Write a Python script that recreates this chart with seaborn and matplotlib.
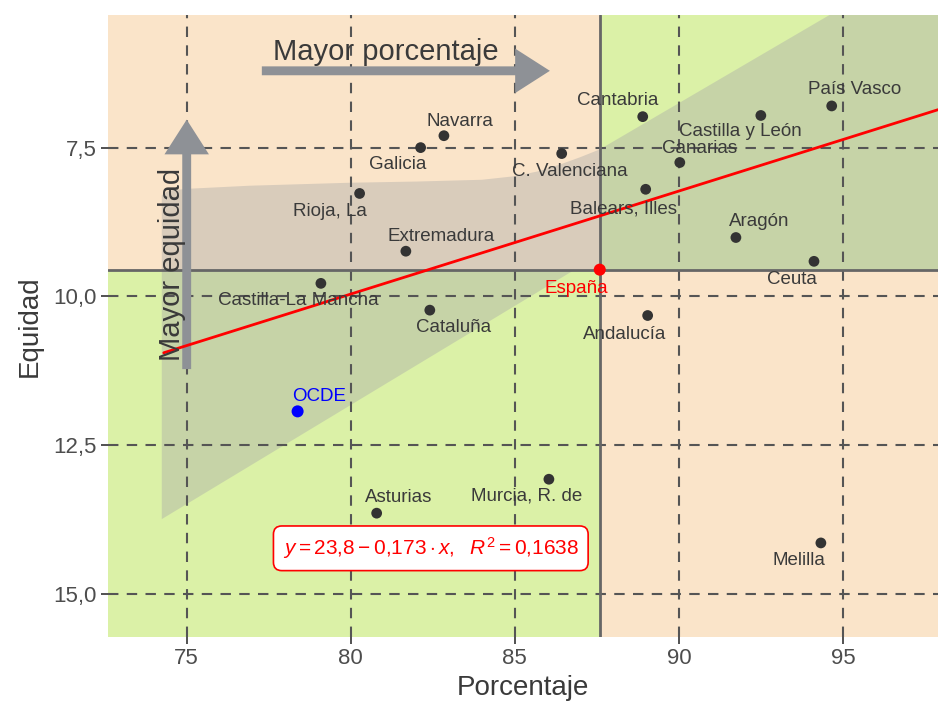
import numpy as np
import pandas as pd
import matplotlib
matplotlib.use("Agg")
import matplotlib.pyplot as plt
import seaborn as sns
from matplotlib.patches import Polygon, Rectangle, FancyArrowPatch

# ---------------- data ----------------
regiones = ["Navarra", "Galicia", "C. Valenciana", "Rioja, La", "Extremadura",
            "Castilla-La Mancha", "Cataluña", "Asturias", "Murcia, R. de",
            "Cantabria", "Castilla y León", "País Vasco", "Canarias",
            "Balears, Illes", "Aragón", "Ceuta", "Andalucía", "Melilla"]
porcentaje = [82.84, 82.13, 86.43, 80.27, 81.68, 79.09, 82.41, 80.79, 86.04,
              88.90, 92.50, 94.66, 90.03, 88.99, 91.74, 94.12, 89.05, 94.33]
equidad = [7.30, 7.50, 7.60, 8.27, 9.24, 9.78, 10.23, 13.64, 13.07,
           6.98, 6.96, 6.80, 7.75, 8.20, 9.01, 9.41, 10.32, 14.14]

espana_x, espana_y = [87.59], [9.55]
ocde_x, ocde_y = [78.38], [11.93]

intercepto, pendiente = 23.8, -0.173
r2 = 0.1638

xticks = [75, 80, 85, 90, 95]
xticklabels = ["75", "80", "85", "90", "95"]
yticks = [7.5, 10.0, 12.5, 15.0]
yticklabels = ["7,5", "10,0", "12,5", "15,0"]

# label offsets (pixels, right / down)
label_dx = [16, -23, 8, -30, 35, -23, 24, 22, -22, -25, -20, 23, 20, -22, 23, -22, -23, -22]
label_dy = [-14, 17, 18, 18, -15, 17, 17, -16, 17, -16, 16, -16, -14, 20, -16, 18, 19, 18]

# ---------------- style ----------------
sns.set_style("white")
plt.rcParams["font.family"] = ["Liberation Sans", "DejaVu Sans"]
plt.rcParams["mathtext.fontset"] = "custom"
plt.rcParams["mathtext.rm"] = "Liberation Sans"
plt.rcParams["mathtext.it"] = "Liberation Sans:italic"

XMIN, XMAX = 72.6, 97.9
YMIN, YMAX = 5.27, 15.72

peach = "#FAE4C9"
green = "#DBF1A7"
txt = "#3a3a3a"

fig = plt.figure(figsize=(9.38, 7.07), dpi=100)
ax = fig.add_axes([0.1151, 0.099, 0.8849, 0.88])
ax.set_xlim(XMIN, XMAX)
ax.set_ylim(YMAX, YMIN)

vx, hy = espana_x[0], espana_y[0]
# quadrants
ax.add_patch(Rectangle((XMIN, YMIN), vx - XMIN, hy - YMIN, color=peach, zorder=0, lw=0))
ax.add_patch(Rectangle((vx, YMIN), XMAX - vx, hy - YMIN, color=green, zorder=0, lw=0))
ax.add_patch(Rectangle((XMIN, hy), vx - XMIN, YMAX - hy, color=green, zorder=0, lw=0))
ax.add_patch(Rectangle((vx, hy), XMAX - vx, YMAX - hy, color=peach, zorder=0, lw=0))

# grey funnel shape
poly = [(74.24, 13.74), (86.83, hy), (XMAX, hy), (XMAX, YMIN), (94.6, YMIN),
        (87.59, 7.53), (87.0, 7.66), (86.4, 7.78), (85.7, 7.9), (85.0, 7.98),
        (84.0, 8.04), (82.0, 8.07), (79.97, 8.09), (76.92, 8.14), (75.09, 8.19),
        (74.45, 8.22), (74.24, 8.3)]
ax.add_patch(Polygon(poly, closed=True, facecolor="#a8a8a8", alpha=0.4, lw=0, zorder=0.3))

# grid
for xv in xticks:
    ax.axvline(xv, color="#555555", lw=1.5, ls=(0, (5, 4)), zorder=0.5)
for yv in yticks:
    ax.axhline(yv, color="#555555", lw=1.5, ls=(0, (5, 4)), zorder=0.5)

ax.axvline(vx, color="#666666", lw=2, zorder=0.6)
ax.axhline(hy, color="#666666", lw=2, zorder=0.6)

# arrows
arr_col = "#8E9196"
style = "simple,head_length=1.25,head_width=1.6,tail_width=0.32"
ax.add_patch(FancyArrowPatch((77.29, 6.21), (86.07, 6.21), arrowstyle=style,
                             mutation_scale=20, color=arr_col, lw=0, shrinkA=0, shrinkB=0, zorder=1))
ax.add_patch(FancyArrowPatch((75.0, 11.22), (75.0, 7.03), arrowstyle=style,
                             mutation_scale=20, color=arr_col, lw=0, shrinkA=0, shrinkB=0, zorder=1))
ax.text(81.07, 5.89, "Mayor porcentaje", fontsize=21, color=txt, ha="center", va="center", zorder=4)
ax.text(74.54, 9.46, "Mayor equidad", fontsize=21, color=txt, ha="center", va="center",
        rotation=90, zorder=4)

# regression line
xl = np.array([74.3, XMAX])
ax.plot(xl, intercepto + pendiente * xl, color="red", lw=2, zorder=2)

# points
df = pd.DataFrame({"region": regiones, "Porcentaje": porcentaje, "Equidad": equidad})
sns.scatterplot(data=df, x="Porcentaje", y="Equidad", color="#333333", s=60,
                edgecolor="none", ax=ax, zorder=3)
sns.scatterplot(x=espana_x, y=espana_y, color="red", s=75, edgecolor="none", ax=ax, zorder=3)
sns.scatterplot(x=ocde_x, y=ocde_y, color="blue", s=75, edgecolor="none", ax=ax, zorder=3)

for r, x, y, dx, dy in zip(regiones, porcentaje, equidad, label_dx, label_dy):
    ax.annotate(r, (x, y), xytext=(dx * 0.72, -dy * 0.72), textcoords="offset points",
                ha="center", va="center", fontsize=13.5, color=txt, zorder=4)
ax.annotate("España", (espana_x[0], espana_y[0]), xytext=(-23 * 0.72, -19 * 0.72),
            textcoords="offset points", ha="center", va="center", fontsize=13.5, color="red", zorder=4)
ax.annotate("OCDE", (ocde_x[0], ocde_y[0]), xytext=(22 * 0.72, 15 * 0.72),
            textcoords="offset points", ha="center", va="center", fontsize=13.5, color="blue", zorder=4)

eq = r"$y = 23{,}8 - 0{,}173 \cdot x,\ \ R^2 = 0{,}1638$"
ax.text(82.44, 14.23, eq, fontsize=15, color="red", ha="center", va="center", zorder=5,
        bbox=dict(boxstyle="round,pad=0.45,rounding_size=0.4", facecolor="white",
                  edgecolor="red", lw=1.2))

# axes
for s in ax.spines.values():
    s.set_visible(False)
ax.set_xticks(xticks)
ax.set_xticklabels(xticklabels)
ax.set_yticks(yticks)
ax.set_yticklabels(yticklabels)
ax.tick_params(axis="both", length=5, width=1.2, color="#333333", labelsize=16,
               labelcolor="#4D4D4D", bottom=True, left=True, pad=3)
ax.set_xlabel("Porcentaje", fontsize=20, color=txt, labelpad=4)
ax.set_ylabel("Equidad", fontsize=20, color=txt, labelpad=8)

fig.savefig("out.png", dpi=100, facecolor="white")
